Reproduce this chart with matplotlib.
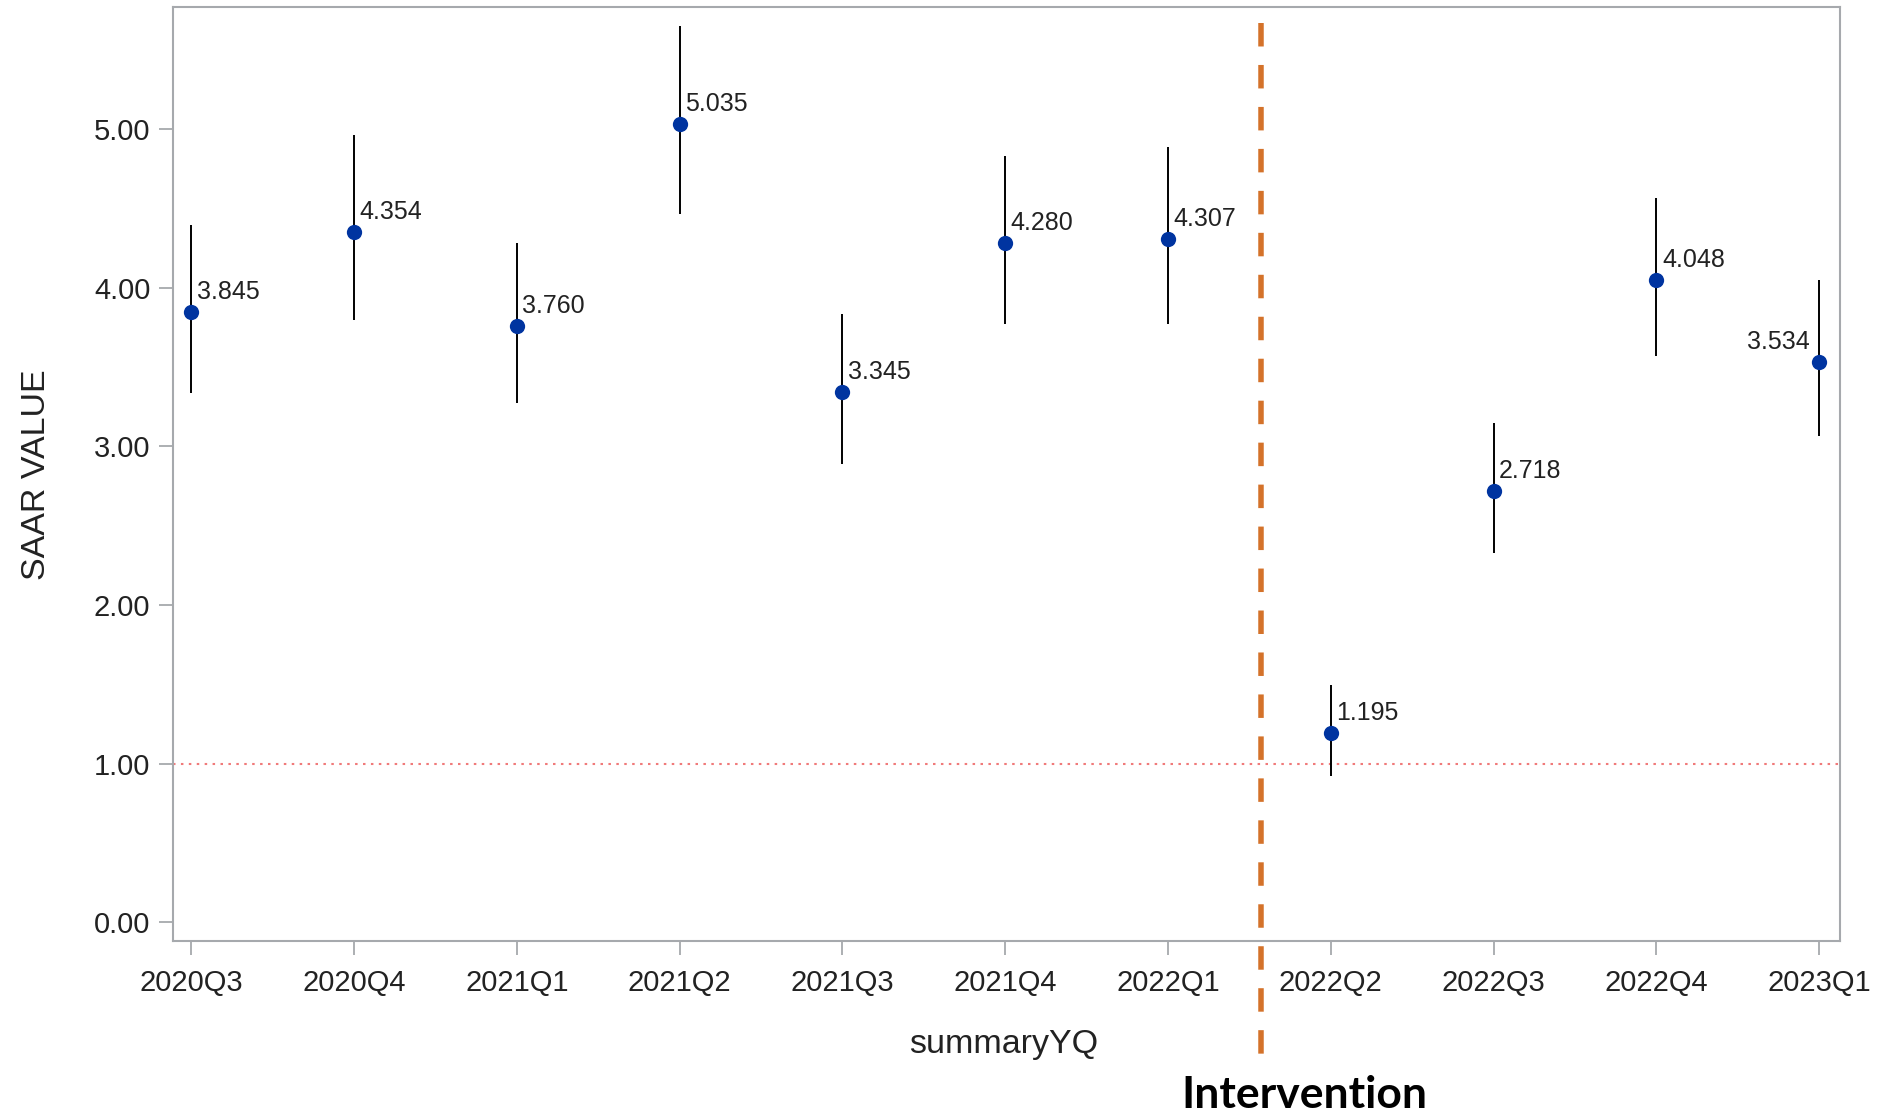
import matplotlib
matplotlib.use("Agg")
import matplotlib.pyplot as plt

# Quarterly SAAR estimates with confidence limits
quarters = ["2020Q3", "2020Q4", "2021Q1", "2021Q2", "2021Q3", "2021Q4",
            "2022Q1", "2022Q2", "2022Q3", "2022Q4", "2023Q1"]
saar = [3.845, 4.354, 3.760, 5.035, 3.345, 4.280, 4.307, 1.195, 2.718, 4.048, 3.534]
lower = [3.336, 3.797, 3.275, 4.463, 2.890, 3.775, 3.775, 0.923, 2.327, 3.570, 3.064]
upper = [4.395, 4.962, 4.281, 5.650, 3.835, 4.834, 4.887, 1.498, 3.150, 4.569, 4.047]
yticks = [0.0, 1.0, 2.0, 3.0, 4.0, 5.0]
reference_value = 1.0
intervention_pos = 6.57
intervention_label = "Intervention"

plt.rcParams["font.family"] = ["Liberation Sans", "DejaVu Sans"]

fig = plt.figure(figsize=(18.8, 11.16), dpi=100)
ax = fig.add_axes([0.0918, 0.1568, 0.8868, 0.8365])

x = list(range(len(quarters)))

# confidence limits
ax.vlines(x, lower, upper, color="black", linewidth=1.4, zorder=2)
# point estimates
ax.plot(x, saar, linestyle="none", marker="o", markersize=11,
        color="#0034A0", markeredgewidth=0, zorder=3)

# value labels
for i, v in enumerate(saar):
    if i == len(saar) - 1:
        ax.annotate(f"{v:.3f}", (i, v), xytext=(-7, 9.4), textcoords="offset points",
                    ha="right", va="baseline", fontsize=18, color="#222222")
    else:
        ax.annotate(f"{v:.3f}", (i, v), xytext=(4, 9.4), textcoords="offset points",
                    ha="left", va="baseline", fontsize=18, color="#222222")

# reference line
ax.axhline(reference_value, color="#F07A7A", linewidth=1.5,
           linestyle=(0, (1.2, 2.6)), zorder=1)

ax.set_xlim(-0.115, 10.126)
ax.set_ylim(-0.118, 5.768)
ax.set_xticks(x)
ax.set_xticklabels(quarters)
ax.set_yticks(yticks)
ax.set_yticklabels([f"{t:.2f}" for t in yticks])

for s in ax.spines.values():
    s.set_color("#A6A9AD")
    s.set_linewidth(1.5)
ax.tick_params(axis="both", colors="#A6A9AD", length=10, width=1.3,
               labelcolor="#222222", labelsize=21)
ax.tick_params(axis="x", pad=10)
ax.tick_params(axis="y", pad=6)

ax.set_xlabel("summaryYQ", fontsize=24.5, color="#222222")
ax.set_ylabel("SAAR VALUE", fontsize=24.5, color="#222222")
ax.xaxis.label.set_verticalalignment("baseline")
# place axis labels in figure pixels
ax.xaxis.set_label_coords(1004 / 1880, 1 - 1052.7 / 1116, transform=fig.transFigure)
ax.yaxis.set_label_coords(37 / 1880, 1 - 475 / 1116, transform=fig.transFigure)
ax.yaxis.label.set_verticalalignment("center")

# intervention marker, running past the plot area
y_top = (922.3 - 23.3) / 158.6
y_bot = (922.3 - 1055) / 158.6
ax.plot([intervention_pos, intervention_pos], [y_top, y_bot], color="#D4722A",
        linewidth=3.96, linestyle=(0, (4.27, 3.36)), solid_capstyle="butt",
        dash_capstyle="butt", clip_on=False, zorder=4)

fig.text(1304 / 1880, 1 - 1108 / 1116, intervention_label, ha="center", va="baseline",
         fontsize=32, fontweight="bold", family=["Lato", "DejaVu Sans"], color="black")

fig.savefig("out.png", dpi=100)
